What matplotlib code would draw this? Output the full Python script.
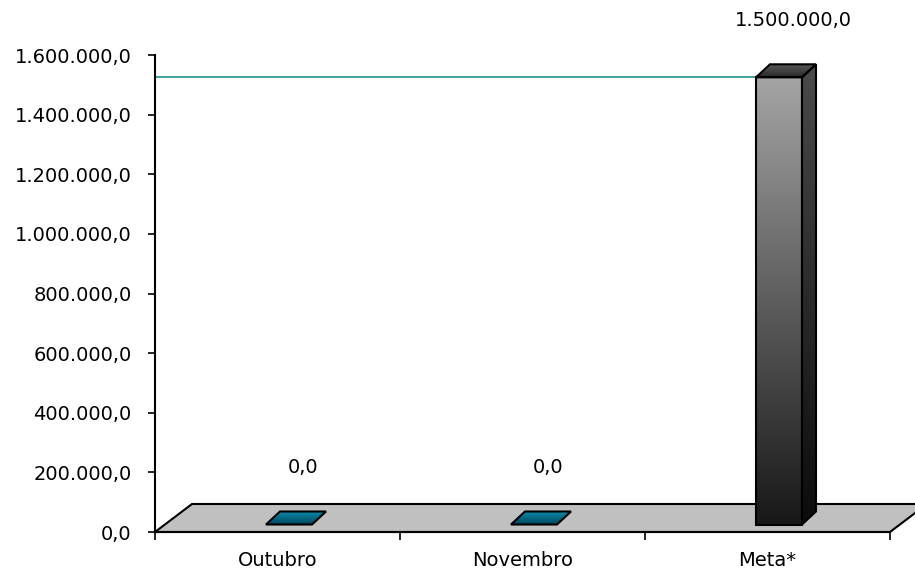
import numpy as np
import matplotlib
matplotlib.use('Agg')
import matplotlib.pyplot as plt
from matplotlib.patches import Polygon
from matplotlib.colors import LinearSegmentedColormap
from matplotlib.ticker import FuncFormatter, FixedLocator

# data
categories = ['Outubro', 'Novembro', 'Meta*']
values = [0.0, 0.0, 1500000.0]
bar_colors = [('#0b8cae', '#00485f'), ('#0b8cae', '#00485f'), ('#a4a4a4', '#181818')]
target = [1500000.0]
y_ticks = [0, 200000, 400000, 600000, 800000, 1000000, 1200000, 1400000, 1600000]

plt.rcParams['font.family'] = 'DejaVu Sans'
plt.rcParams['font.size'] = 14

W, H = 915, 574
fig = plt.figure(figsize=(W / 100, H / 100), dpi=100)
ax = fig.add_axes([155 / W, 42 / H, 735 / W, 477 / H])
ax.set_xlim(-0.5, 2.5)
ax.set_ylim(0, 1600000)

# pixel -> data helpers for the fake 3d depth
px_x = lambda p: p / 245.0
px_y = lambda p: p * 1600000 / 477.0

fdx, fdy = px_x(37), px_y(28)      # floor depth
bw = px_x(46)                       # bar width
bdx, bdy = px_x(14), px_y(13)       # bar depth
ox, oy = (fdx - bdx) / 2, (fdy - bdy) / 2


def br(v):
    return f'{v:,.1f}'.replace(',', 'X').replace('.', ',').replace('X', '.')


def grad_fill(poly, c_top, c_bot, z):
    cmap = LinearSegmentedColormap.from_list('g', [c_bot, c_top])
    xs, ys = poly[:, 0], poly[:, 1]
    g = np.linspace(0, 1, 256).reshape(-1, 1)
    im = ax.imshow(g, cmap=cmap, origin='lower', aspect='auto',
                   extent=[xs.min(), xs.max(), ys.min(), ys.max()], zorder=z)
    p = Polygon(poly, closed=True, facecolor='none', edgecolor='black', lw=1.5, zorder=z + 0.1)
    ax.add_patch(p)
    im.set_clip_path(p)


# floor
floor = Polygon([(-0.5, 0), (2.5, 0), (2.5 + fdx, fdy), (-0.5 + fdx, fdy)], closed=True,
                facecolor='#c0c0c0', edgecolor='black', lw=1.5, zorder=1, clip_on=False)
ax.add_patch(floor)

for i, v in enumerate(values):
    x0 = i - bw / 2 + ox
    x1 = x0 + bw
    yb, yt = oy, oy + v
    top_c, bot_c = bar_colors[i]
    if v > 0:
        front = np.array([(x0, yb), (x1, yb), (x1, yt), (x0, yt)])
        side = np.array([(x1, yb), (x1 + bdx, yb + bdy), (x1 + bdx, yt + bdy), (x1, yt)])
        top = np.array([(x0, yt), (x1, yt), (x1 + bdx, yt + bdy), (x0 + bdx, yt + bdy)])
        grad_fill(front, top_c, bot_c, 3)
        grad_fill(side, '#4a4a4a', '#0c0c0c', 3)
        grad_fill(top, '#5a5a5a', '#2a2a2a', 3)
    else:
        top = np.array([(x0, yt), (x1, yt), (x1 + bdx, yt + bdy), (x0 + bdx, yt + bdy)])
        grad_fill(top, top_c, bot_c, 3)
    ax.text(i + 0.105, yt + px_y(57), br(v), ha='center', va='center', fontsize=14)

# target line up to the front of the Meta bar
meta_x0 = len(values) - 1 - bw / 2 + ox
ax.plot([-0.5, meta_x0], [target[0] + oy] * 2, color='#2f9c98', lw=1.3, zorder=2, clip_on=False)

ax.set_xlim(-0.5, 2.5)
ax.set_ylim(0, 1600000)

ax.yaxis.set_major_locator(FixedLocator(y_ticks))
ax.yaxis.set_major_formatter(FuncFormatter(lambda v, p: br(v)))
ax.tick_params(axis='y', direction='out', length=5, width=1.2, pad=12, labelsize=14)

ax.set_xticks(range(len(categories)))
ax.set_xticklabels(categories)
ax.set_xticks([-0.5, 0.5, 1.5, 2.5], minor=True)
ax.tick_params(axis='x', which='major', length=0, pad=14, labelsize=14)
ax.tick_params(axis='x', which='minor', direction='out', length=6, width=1.2)

for s in ['top', 'right']:
    ax.spines[s].set_visible(False)
ax.spines['left'].set_linewidth(1.5)
ax.spines['bottom'].set_linewidth(1.5)
ax.spines['left'].set_zorder(5)
ax.spines['bottom'].set_zorder(5)
ax.patch.set_visible(False)

fig.savefig('out.png', dpi=100)
